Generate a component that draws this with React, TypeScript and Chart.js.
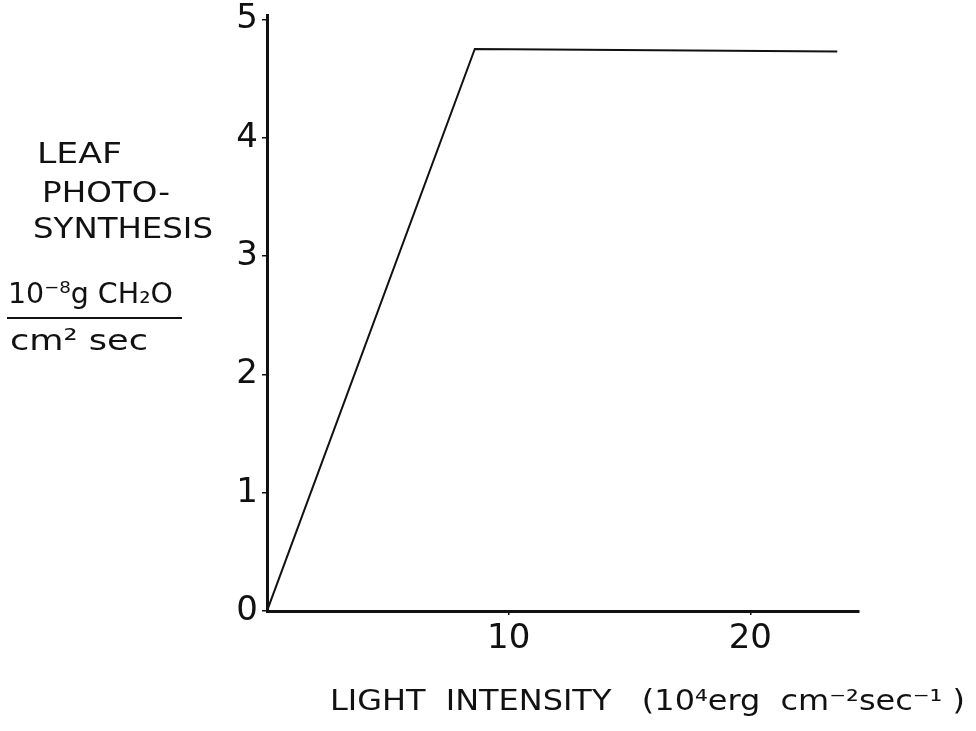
import React, { useEffect, useRef } from "react";
import { Chart, registerables } from "chart.js";

Chart.register(...registerables);

// Light-response curve of leaf photosynthesis
const LIGHT = [0, 8.6, 23.6];
const PHOTOSYNTHESIS = [0, 4.75, 4.73];

const X_TICKS = [10, 20];
const Y_TICKS = [0, 1, 2, 3, 4, 5];

const Y_TITLE_LINES = ["LEAF", "PHOTO-", "SYNTHESIS"];
const Y_UNIT_TOP = "10\u207B\u2078g CH\u2082O";
const Y_UNIT_BOTTOM = "cm\u00B2 sec";
const X_TITLE = "LIGHT  INTENSITY   (10\u2074erg  cm\u207B\u00B2sec\u207B\u00B9 )";

const FONT = "'DejaVu Sans', 'Liberation Sans', sans-serif";
const INK = "#111";

function drawFitted(
  ctx: CanvasRenderingContext2D,
  text: string,
  x: number,
  baseline: number,
  width: number,
  size: number
) {
  ctx.save();
  ctx.font = `${size}px ${FONT}`;
  ctx.textBaseline = "alphabetic";
  ctx.textAlign = "left";
  const measured = ctx.measureText(text).width || 1;
  ctx.translate(x, baseline);
  ctx.scale(width / measured, 1);
  ctx.fillText(text, 0, 0);
  ctx.restore();
}

const titlesPlugin = {
  id: "handLetteredTitles",
  afterDraw(chart: Chart) {
    const ctx = chart.ctx;
    ctx.save();
    ctx.fillStyle = INK;
    ctx.strokeStyle = INK;

    drawFitted(ctx, Y_TITLE_LINES[0], 37, 163, 85, 29);
    drawFitted(ctx, Y_TITLE_LINES[1], 42, 202, 128, 29);
    drawFitted(ctx, Y_TITLE_LINES[2], 33, 238, 180, 29);

    drawFitted(ctx, Y_UNIT_TOP, 8, 303, 165, 29);
    ctx.lineWidth = 2;
    ctx.beginPath();
    ctx.moveTo(7, 318);
    ctx.lineTo(182, 318);
    ctx.stroke();
    drawFitted(ctx, Y_UNIT_BOTTOM, 10, 350, 138, 29);

    drawFitted(ctx, X_TITLE, 330, 710, 635, 28);
    ctx.restore();
  },
};

export default function App() {
  const canvasRef = useRef<HTMLCanvasElement | null>(null);

  useEffect(() => {
    if (!canvasRef.current) return;
    const xTickFont = { family: FONT, size: 34, lineHeight: 1 };
    const yTickFont = { family: FONT, size: 34, lineHeight: 0.7 };

    const chart = new Chart(canvasRef.current, {
      type: "line",
      data: {
        datasets: [
          {
            data: LIGHT.map((x, i) => ({ x, y: PHOTOSYNTHESIS[i] })),
            borderColor: INK,
            borderWidth: 2,
            pointRadius: 0,
            tension: 0,
            fill: false,
          },
        ],
      },
      options: {
        responsive: false,
        animation: false,
        devicePixelRatio: 1,
        layout: { padding: { left: 0, top: 13, right: 117, bottom: 0 } },
        plugins: {
          legend: { display: false },
          tooltip: { enabled: false },
        },
        scales: {
          x: {
            type: "linear",
            min: 0,
            max: 24.5,
            afterBuildTicks: (s: any) => {
              s.ticks = X_TICKS.map((v) => ({ value: v }));
            },
            afterFit: (s: any) => {
              s.height = 120;
            },
            grid: {
              drawOnChartArea: false,
              drawTicks: true,
              tickLength: 4,
              color: INK,
              lineWidth: 1.5,
            },
            border: { color: INK, width: 3 },
            ticks: { font: xTickFont, color: INK, padding: 7, maxRotation: 0 },
          },
          y: {
            type: "linear",
            min: 0,
            max: 5.03,
            afterBuildTicks: (s: any) => {
              s.ticks = Y_TICKS.map((v) => ({ value: v }));
            },
            afterFit: (s: any) => {
              s.width = 267;
            },
            grid: {
              drawOnChartArea: false,
              drawTicks: true,
              tickLength: 5,
              color: INK,
              lineWidth: 1.5,
            },
            border: { color: INK, width: 3 },
            ticks: { font: yTickFont, color: INK, padding: 4 },
          },
        },
      },
      plugins: [titlesPlugin],
    });

    return () => chart.destroy();
  }, []);

  return (
    <div
      style={{
        position: "absolute",
        left: 0,
        top: 0,
        width: 976,
        height: 731,
        background: "#fff",
      }}
    >
      <canvas ref={canvasRef} width={976} height={731} />
    </div>
  );
}
